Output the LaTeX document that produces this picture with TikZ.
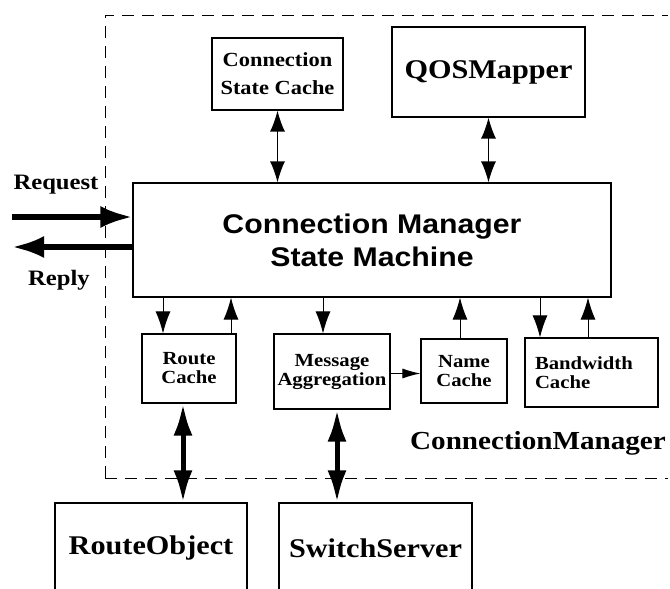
\documentclass[tikz,border=0pt]{standalone}
\usepackage{fontspec}
\setmainfont{Liberation Serif}[FakeStretch=1.12]
\newfontfamily\smsans{Liberation Sans}[FakeStretch=1.12]
\usetikzlibrary{arrows.meta,positioning}

\begin{document}
\begin{tikzpicture}[
    x=1pt, y=-1pt,
    box/.style={rectangle, draw, line width=1.1pt, inner sep=0pt, align=center,
        font=\fontsize{18.5}{19}\selectfont\bfseries},
    big/.style={font=\fontsize{27}{30}\selectfont\bfseries},
    thin/.style={line width=1.3pt, {Latex[length=21pt,width=15pt]}-{Latex[length=21pt,width=15pt]}},
    onearrow/.style={line width=1pt, -{Latex[length=22pt,width=15pt]}},
    small/.style={line width=1pt, -{Latex[length=18pt,width=10pt]}},
    fat/.style={line width=5.5pt, -{Latex[length=32pt,width=22pt]}},
    fatboth/.style={line width=5pt, {Latex[length=32pt,width=19pt]}-{Latex[length=32pt,width=19pt]}},
    frame/.style={line width=1pt, dash pattern=on 12pt off 8pt}
]
    \useasboundingbox (0,0) rectangle (670,589);

    % ConnectionManager frame (open on the right)
    \coordinate (fbl) at (105,478);
    \coordinate (ftl) at (105,15);
    \draw[frame] (fbl) -- (ftl) -- (668,15);
    \draw[frame] (fbl) -- (668,478);

    \node[box, minimum width=478pt, minimum height=114pt,
          font=\smsans\fontsize{27}{33}\selectfont\bfseries] (sm) at (372,240)
        {Connection Manager\\State Machine};

    \node[box, minimum width=131pt, minimum height=72pt,
          font=\fontsize{20}{28}\selectfont\bfseries] (csc) at (277.5,74)
        {Connection\\State Cache};
    \node[box, big, minimum width=193pt, minimum height=90pt] (qos) at (488.5,72) {QOSMapper};

    \node[box, minimum width=94pt, minimum height=69pt] (rc) at (189,368.5) {Route\\Cache};
    \node[box, minimum width=116pt, minimum height=75pt] (ma) at (332,371.5) {Message\\Aggregation};
    \node[box, minimum width=86pt, minimum height=64pt] (nc) at (464,371) {Name\\Cache};
    \node[box, minimum width=133pt, minimum height=69pt, align=left,
          text width=113pt, inner xsep=10pt] (bc) at (591.5,372.5) {Bandwidth\\Cache\\[5pt]};

    \node[big, font=\fontsize{26}{30}\selectfont\bfseries] (cm) at (538,443) {ConnectionManager};

    \node[box, big, minimum width=192pt, minimum height=90pt] (ro) at (151,548) {RouteObject};
    \node[box, big, minimum width=193pt, minimum height=90pt] (ss) at (375.5,548) {SwitchServer};

    \node[font=\fontsize{22}{24}\selectfont\bfseries] (req) at (56,185) {Request};
    \node[font=\fontsize{22}{24}\selectfont\bfseries] (rep) at (59,280) {Reply};
    \coordinate (reqin) at (12,217);
    \coordinate (repout) at (12,247);

    \draw[fat] (reqin) -- (reqin -| sm.west);
    \draw[fat] (repout -| sm.west) -- (repout);

    \draw[thin] (csc.south) -- (csc.south |- sm.north);
    \draw[thin] (qos.south) -- (qos.south |- sm.north);

    \draw[onearrow] ([xshift=-26pt]rc.north |- sm.south) -- ([xshift=-26pt]rc.north);
    \draw[onearrow] ([xshift=42pt]rc.north) -- ([xshift=42pt]rc.north |- sm.south);
    \draw[onearrow] ([xshift=-9pt]ma.north |- sm.south) -- ([xshift=-9pt]ma.north);
    \draw[onearrow] ([xshift=-4pt]nc.north) -- ([xshift=-4pt]nc.north |- sm.south);
    \draw[onearrow] ([xshift=-51.5pt]bc.north |- sm.south) -- ([xshift=-51.5pt]bc.north);
    \draw[onearrow] ([xshift=-3.5pt]bc.north) -- ([xshift=-3.5pt]bc.north |- sm.south);
    \draw[small] ([yshift=-2pt]ma.east) -- ([yshift=-2pt]ma.east -| nc.west);

    \draw[fatboth] ([xshift=-6pt]rc.south) -- ([xshift=-6pt]rc.south |- ro.north);
    \draw[fatboth] ([xshift=5pt]ma.south) -- ([xshift=5pt]ma.south |- ss.north);
\end{tikzpicture}
\end{document}
